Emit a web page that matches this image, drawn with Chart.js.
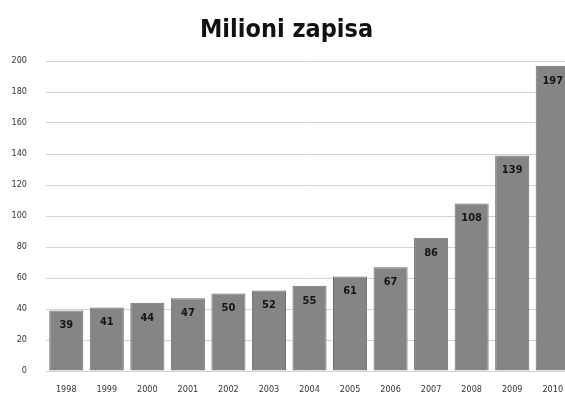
<!DOCTYPE html>
<html>
<head>
<meta charset="utf-8">
<script src="https://cdn.jsdelivr.net/npm/chart.js@4"></script>
<style>
  html,body{margin:0;padding:0;background:#fff;overflow:hidden;}
  #wrap{width:576px;height:396px;position:relative;}
</style>
</head>
<body>
<div id="wrap"><canvas id="c"></canvas></div>
<script>
const years = ['1998','1999','2000','2001','2002','2003','2004','2005','2006','2007','2008','2009','2010'];
const records = [39,41,44,47,50,52,55,61,67,86,108,139,197];
const titleText = 'Milioni zapisa';
const condensed = "'DejaVu Sans Condensed','DejaVu Sans',sans-serif";

// value labels drawn inside the top of each bar
const barLabels = {
  id:'barLabels',
  afterDatasetsDraw(chart){
    const ctx = chart.ctx;
    const meta = chart.getDatasetMeta(0);
    ctx.save();
    ctx.font = "bold 11px " + condensed;
    ctx.fillStyle = '#151515';
    ctx.textAlign = 'center';
    ctx.textBaseline = 'middle';
    meta.data.forEach((bar, i) => {
      ctx.fillText(String(records[i]), bar.x, bar.y + 15);
    });
    ctx.restore();
  }
};

new Chart(document.getElementById('c'), {
  type:'bar',
  data:{
    labels:years,
    datasets:[{
      data:records,
      backgroundColor:'#858585',
      borderColor:'#6f6f6f',
      borderWidth:1,
      barPercentage:0.84,
      categoryPercentage:1
    }]
  },
  options:{
    responsive:true,
    maintainAspectRatio:false,
    animation:false,
    layout:{ padding:{ left:0, right:3, top:0, bottom:0 } },
    plugins:{
      legend:{ display:false },
      tooltip:{ enabled:false },
      title:{
        display:true,
        text:titleText,
        color:'#111',
        font:{ family:condensed, size:25, weight:'bold' },
        padding:{ top:15, bottom:16 }
      }
    },
    scales:{
      x:{
        grid:{ display:false },
        border:{ display:false },
        ticks:{ color:'#333', font:{ family:condensed, size:9 }, padding:5, maxRotation:0 },
        afterFit(scale){ scale.height = 25; }
      },
      y:{
        min:0, max:200,
        ticks:{ stepSize:20, color:'#333', font:{ family:condensed, size:9 }, padding:19 },
        grid:{ color:'#d4d4d4', lineWidth:1, drawTicks:false },
        border:{ display:false },
        afterFit(scale){ scale.width = 46; }
      }
    }
  },
  plugins:[barLabels]
});
</script>
</body>
</html>
